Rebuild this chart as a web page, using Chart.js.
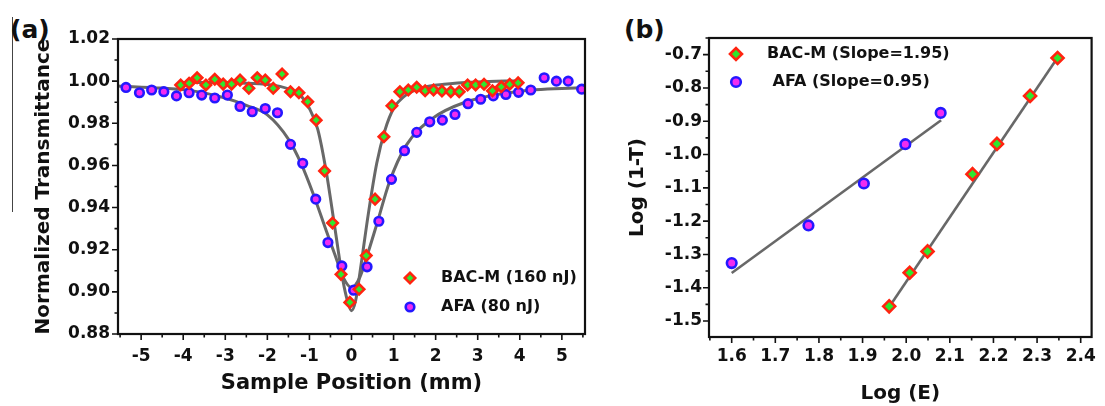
<!DOCTYPE html>
<html>
<head>
<meta charset="utf-8">
<script src="https://cdn.jsdelivr.net/npm/chart.js@4.4.0/dist/chart.umd.min.js"></script>
<style>
  body { margin: 0; background: #fff; }
  #wrap { position: relative; width: 1105px; height: 406px; overflow: hidden; }
  canvas { position: absolute; top: 0; }
  #chartA { left: 0; }
  #chartB { left: 600px; }
  .panel { position: absolute; font: bold 25px 'DejaVu Sans', sans-serif; line-height: 1; color: #111; }
  .edge { position: absolute; left: 12px; top: 17px; height: 195px; border-left: 1px solid #444; }
</style>
</head>
<body>
<div id="wrap">
  <div class="edge"></div>
  <div class="panel" style="left:10px; top:17px;">(a)</div>
  <div class="panel" style="left:624px; top:17px;">(b)</div>
  <canvas id="chartA" width="600" height="406"></canvas>
  <canvas id="chartB" width="505" height="406"></canvas>
</div>
<script>
// ---- panel (a): open aperture Z-scan ----
const bacX = [-4.06, -3.86, -3.67, -3.46, -3.25, -3.05, -2.85, -2.65, -2.44, -2.24, -2.05, -1.86, -1.65, -1.45, -1.25, -1.04, -0.84, -0.64, -0.45, -0.25, -0.04, 0.18, 0.35, 0.56, 0.77, 0.96, 1.15, 1.35, 1.55, 1.75, 1.95, 2.15, 2.36, 2.56, 2.76, 2.95, 3.15, 3.35, 3.56, 3.76, 3.96];
const bacY = [0.9982, 0.9990, 1.0016, 0.9982, 1.0009, 0.9986, 0.9986, 1.0005, 0.9966, 1.0016, 1.0005, 0.9966, 1.0034, 0.9950, 0.9945, 0.9902, 0.9815, 0.9574, 0.9327, 0.9083, 0.8950, 0.9012, 0.9172, 0.9440, 0.9736, 0.9883, 0.9950, 0.9958, 0.9971, 0.9954, 0.9958, 0.9953, 0.9950, 0.9950, 0.9982, 0.9982, 0.9985, 0.9954, 0.9973, 0.9985, 0.9992];

const afaX = [-5.36, -5.04, -4.75, -4.46, -4.16, -3.86, -3.56, -3.25, -2.95, -2.65, -2.36, -2.05, -1.76, -1.45, -1.16, -0.85, -0.56, -0.23, 0.05, 0.37, 0.65, 0.95, 1.26, 1.55, 1.86, 2.16, 2.46, 2.77, 3.07, 3.37, 3.67, 3.97, 4.26, 4.58, 4.87, 5.15, 5.47];
const afaY = [0.9970, 0.9945, 0.9958, 0.9950, 0.9930, 0.9945, 0.9934, 0.9920, 0.9934, 0.9880, 0.9855, 0.9870, 0.9850, 0.9700, 0.9610, 0.9440, 0.9234, 0.9123, 0.9008, 0.9119, 0.9335, 0.9534, 0.9670, 0.9757, 0.9807, 0.9815, 0.9842, 0.9893, 0.9914, 0.9930, 0.9937, 0.9947, 0.9958, 1.0016, 1.0000, 1.0000, 0.9962];

// fitted curves
const bacFitX = [-4.06, -3.0, -2.2, -1.7, -1.4, -1.2, -1.0, -0.8, -0.6, -0.4, -0.2, -0.1, 0, 0.1, 0.2, 0.4, 0.6, 0.8, 1.0, 1.3, 1.7, 2.2, 3.0, 3.98];
const bacFitY = [0.9994, 0.9993, 0.9988, 0.9975, 0.9955, 0.9930, 0.9870, 0.9770, 0.9570, 0.9310, 0.9050, 0.8960, 0.8910, 0.8960, 0.9090, 0.9370, 0.9610, 0.9770, 0.9870, 0.9935, 0.9970, 0.9985, 0.9996, 1.0002];
const afaFitX = [-5.55, -4.5, -3.8, -3.0, -2.5, -2.0, -1.5, -1.2, -0.9, -0.6, -0.4, -0.2, 0, 0.2, 0.4, 0.6, 0.9, 1.3, 1.9, 2.7, 3.9, 5.55];
const afaFitY = [0.9977, 0.9967, 0.9955, 0.9920, 0.9885, 0.9840, 0.9725, 0.9610, 0.9460, 0.9290, 0.9180, 0.9070, 0.9020, 0.9070, 0.9190, 0.9320, 0.9520, 0.9695, 0.9820, 0.9900, 0.9950, 0.9970];

const xTicksA = [-5, -4, -3, -2, -1, 0, 1, 2, 3, 4, 5];
const yTicksA = [0.88, 0.90, 0.92, 0.94, 0.96, 0.98, 1.00, 1.02];
const legendA = ["BAC-M (160 nJ)", "AFA (80 nJ)"];

// ---- panel (b): Log(1-T) vs Log(E) ----
const bacLogE = [1.961, 2.008, 2.049, 2.152, 2.208, 2.284, 2.347];
const bacLogT = [-1.456, -1.355, -1.291, -1.059, -0.968, -0.824, -0.710];
const afaLogE = [1.600, 1.776, 1.903, 1.998, 2.079];
const afaLogT = [-1.326, -1.213, -1.087, -0.969, -0.875];
const bacLineX = [1.961, 2.348];
const bacLineY = [-1.458, -0.707];
const afaLineX = [1.600, 2.080];
const afaLineY = [-1.356, -0.897];

const xTicksB = [1.6, 1.7, 1.8, 1.9, 2.0, 2.1, 2.2, 2.3, 2.4];
const yTicksB = [-1.5, -1.4, -1.3, -1.2, -1.1, -1.0, -0.9, -0.8, -0.7];
const legendB = ["BAC-M (Slope=1.95)", " AFA (Slope=0.95)"];

const zip = (xs, ys) => xs.map((x, i) => ({ x: x, y: ys[i] }));

Chart.defaults.font.family = "'DejaVu Sans', sans-serif";
Chart.defaults.font.weight = "bold";
Chart.defaults.font.size = 17;
Chart.defaults.color = "#111";

// box around the plot plus outward major/minor ticks
const frame = {
    id: "frame",
    afterDraw(chart, args, opts) {
        const { ctx, chartArea: a } = chart;
        const xs = chart.scales.x, ys = chart.scales.y;
        ctx.save();
        ctx.strokeStyle = "#111";
        ctx.lineWidth = 1.6;
        ctx.beginPath();
        for (let i = Math.ceil(xs.min / opts.xMinor - 1e-6); i * opts.xMinor <= xs.max + 1e-9; i++) {
            const p = xs.getPixelForValue(i * opts.xMinor);
            const len = i % 2 === 0 ? 6 : 3.5;
            ctx.moveTo(p, a.bottom);
            ctx.lineTo(p, a.bottom + len);
        }
        for (let i = Math.ceil(ys.min / opts.yMinor - 1e-6); i * opts.yMinor <= ys.max + 1e-9; i++) {
            const p = ys.getPixelForValue(i * opts.yMinor);
            const len = i % 2 === 0 ? 6 : 3.5;
            ctx.moveTo(a.left, p);
            ctx.lineTo(a.left - len, p);
        }
        ctx.stroke();
        ctx.lineWidth = 2.2;
        ctx.strokeRect(a.left, a.top, a.right - a.left, a.bottom - a.top);
        ctx.restore();
    },
};

// legend drawn inside the plot, using the dataset marker styles
const markerLegend = {
    id: "markerLegend",
    afterDraw(chart, args, opts) {
        const ctx = chart.ctx;
        ctx.save();
        ctx.textBaseline = "middle";
        ctx.font = "bold " + opts.fontSize + "px 'DejaVu Sans', sans-serif";
        opts.labels.forEach((text, i) => {
            const ds = chart.data.datasets[i];
            const y = opts.y + i * opts.rowGap;
            ctx.fillStyle = ds.backgroundColor;
            ctx.strokeStyle = ds.borderColor;
            ctx.lineWidth = ds.borderWidth;
            Chart.helpers.drawPoint(ctx, {
                pointStyle: ds.pointStyle,
                radius: ds.pointRadius,
                rotation: 0,
                borderWidth: ds.borderWidth,
            }, opts.x, y);
            ctx.fillStyle = "#111";
            ctx.fillText(text, opts.textX, y);
        });
        ctx.restore();
    },
};

const diamond = (data, r) => ({
    data: data, pointStyle: "rectRot", pointRadius: r,
    backgroundColor: "#2ee82e", borderColor: "#ff2410", borderWidth: 2.6, order: 1,
});
const circle = (data, r) => ({
    data: data, pointStyle: "circle", pointRadius: r,
    backgroundColor: "#f02cf0", borderColor: "#2418ff", borderWidth: 2.6, order: 1,
});
const fitLine = (data, w, smooth) => ({
    data: data, showLine: true, pointRadius: 0, borderColor: "#686868", borderWidth: w,
    cubicInterpolationMode: smooth ? "monotone" : "default", fill: false, order: 2,
});

function axis(opts) {
    return {
        type: "linear",
        min: opts.min,
        max: opts.max,
        grid: { display: false, drawTicks: false },
        border: { display: false },
        afterBuildTicks: (s) => { s.ticks = opts.ticks.map((v) => ({ value: v })); },
        afterFit: opts.fit,
        ticks: { padding: opts.pad, callback: (v) => Number(v).toFixed(opts.dec), color: "#111" },
        title: { display: true, text: opts.title, font: { size: opts.titleSize }, padding: opts.titlePad, color: "#111" },
    };
}

new Chart(document.getElementById("chartA"), {
    type: "scatter",
    data: {
        datasets: [
            diamond(zip(bacX, bacY), 5.2),
            circle(zip(afaX, afaY), 4.3),
            fitLine(zip(bacFitX, bacFitY), 3, true),
            fitLine(zip(afaFitX, afaFitY), 3, true),
        ],
    },
    options: {
        responsive: false,
        animation: false,
        layout: { padding: { top: 39, right: 15, left: 0, bottom: 0 } },
        scales: {
            x: axis({ min: -5.55, max: 5.55, ticks: xTicksA, dec: 0, pad: 12,
                fit: (s) => { s.height = 72; },
                title: "Sample Position (mm)", titleSize: 21, titlePad: { top: 0, bottom: 10 } }),
            y: axis({ min: 0.88, max: 1.02, ticks: yTicksA, dec: 2, pad: 8,
                fit: (s) => { s.width = 118; },
                title: "Normalized Transmittance", titleSize: 20, titlePad: { top: 32, bottom: 0 } }),
        },
        plugins: {
            legend: { display: false },
            tooltip: { enabled: false },
            frame: { xMinor: 0.5, yMinor: 0.01 },
            markerLegend: { labels: legendA, x: 410, textX: 441, y: 278, rowGap: 29, fontSize: 16 },
        },
    },
    plugins: [frame, markerLegend],
});

new Chart(document.getElementById("chartB"), {
    type: "scatter",
    data: {
        datasets: [
            diamond(zip(bacLogE, bacLogT), 6),
            circle(zip(afaLogE, afaLogT), 4.8),
            fitLine(zip(bacLineX, bacLineY), 2.6, false),
            fitLine(zip(afaLineX, afaLineY), 2.6, false),
        ],
    },
    options: {
        responsive: false,
        animation: false,
        layout: { padding: { top: 38, right: 5, left: 0, bottom: 0 } },
        scales: {
            x: axis({ min: 1.548, max: 2.425, ticks: xTicksB, dec: 1, pad: 9,
                fit: (s) => { s.height = 69; },
                title: "Log (E)", titleSize: 20, titlePad: { top: 0, bottom: 0 } }),
            y: axis({ min: -1.548, max: -0.65, ticks: yTicksB, dec: 1, pad: 7,
                fit: (s) => { s.width = 109; },
                title: "Log (1-T)", titleSize: 20, titlePad: { top: 26, bottom: 0 } }),
        },
        plugins: {
            legend: { display: false },
            tooltip: { enabled: false },
            frame: { xMinor: 0.05, yMinor: 0.05 },
            markerLegend: { labels: legendB, x: 136, textX: 167, y: 54, rowGap: 28, fontSize: 16 },
        },
    },
    plugins: [frame, markerLegend],
});
</script>
</body>
</html>
